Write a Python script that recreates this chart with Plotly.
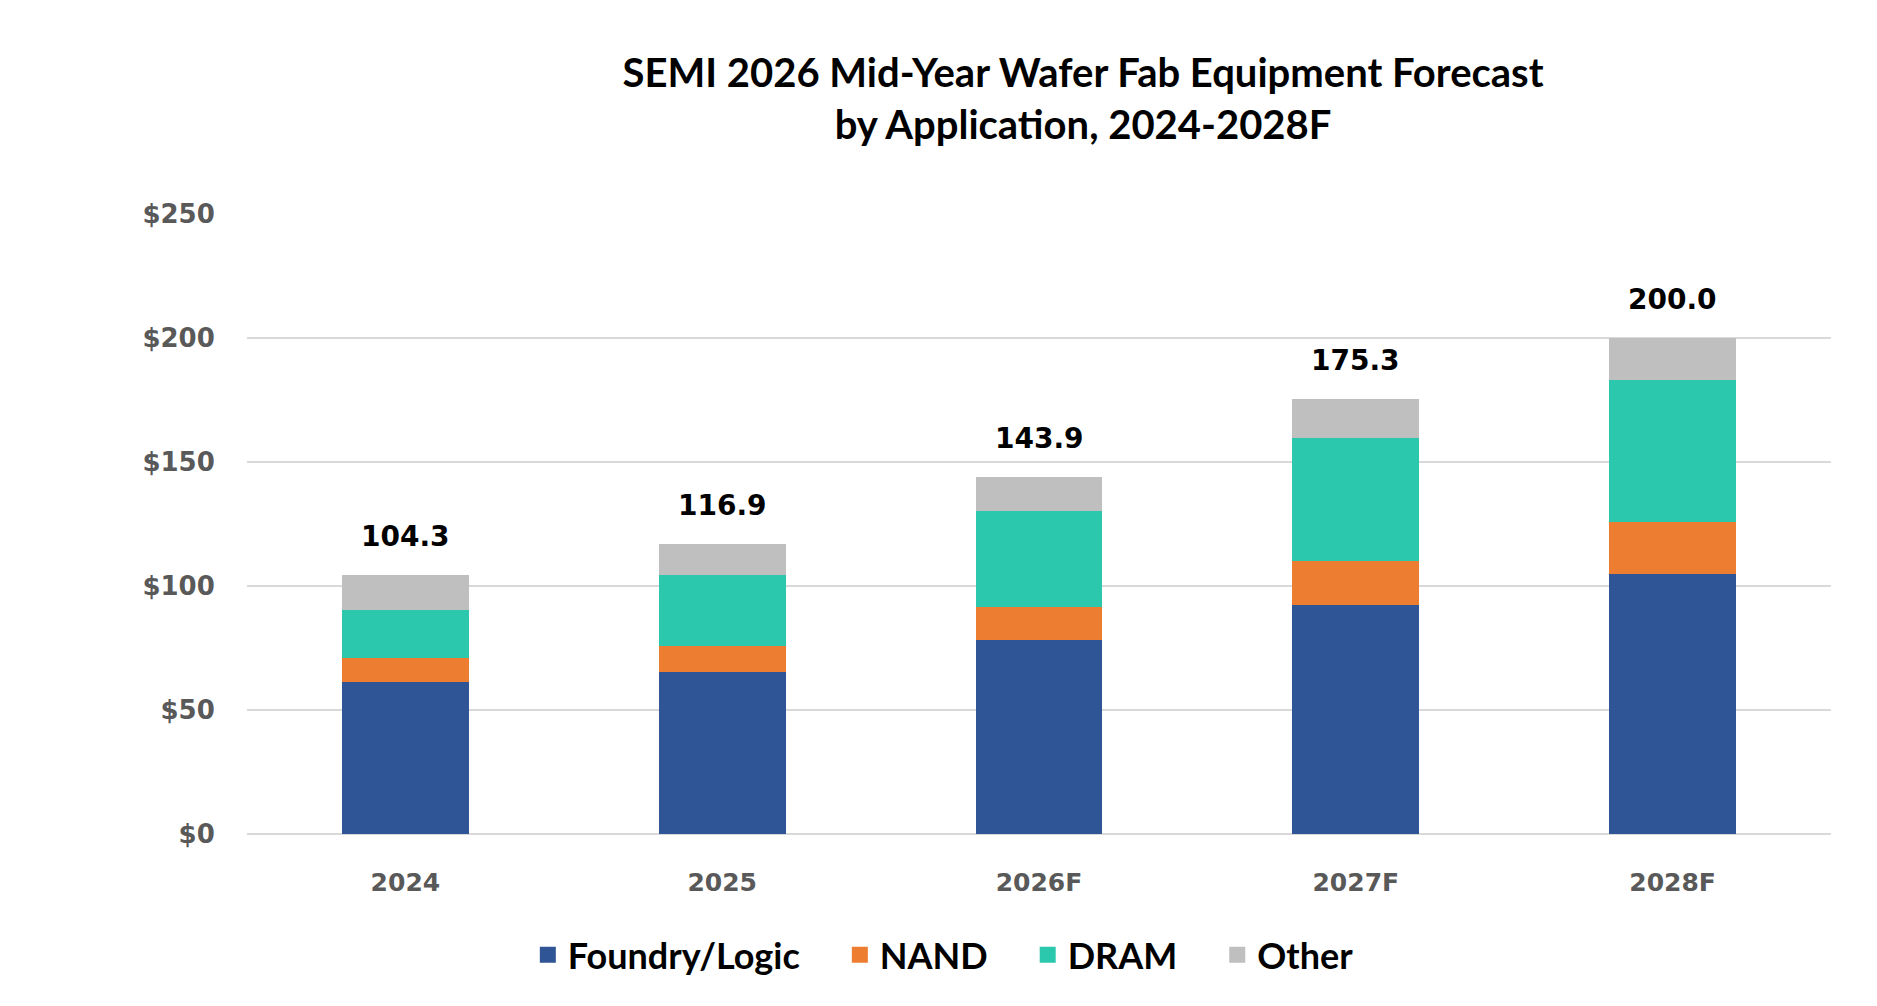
import plotly.graph_objects as go

categories = ["2024", "2025", "2026F", "2027F", "2028F"]
foundry_logic = [61.1, 65.5, 78.2, 92.3, 104.9]
nand = [9.7, 10.4, 13.5, 17.7, 21.1]
dram = [19.5, 28.4, 38.7, 49.5, 56.9]
other = [14.0, 12.6, 13.5, 15.8, 17.1]
totals = [104.3, 116.9, 143.9, 175.3, 200.0]
y_ticks = [0, 50, 100, 150, 200, 250]
y_tick_labels = ["$0", "$50", "$100", "$150", "$200", "$250"]

series = [
    ("Foundry/Logic", foundry_logic, "#2F5597"),
    ("NAND", nand, "#ED7D31"),
    ("DRAM", dram, "#2BC8AD"),
    ("Other", other, "#BFBFBF"),
]

narrow = "Lato, Noto Sans, sans-serif"
wide = "DejaVu Sans, Verdana, sans-serif"
pad = "\u00a0" * 4

fig = go.Figure()
for name, vals, color in series:
    fig.add_trace(go.Bar(x=categories, y=vals, name=name, marker_color=color,
                         marker_line_width=0, showlegend=False))
# legend entries with larger square swatches
for k, (name, vals, color) in enumerate(series):
    label = name + (pad if k < len(series) - 1 else "")
    fig.add_trace(go.Scatter(x=[categories[0]], y=[None], mode="markers", name=label,
                             marker=dict(symbol="square", size=16, color=color),
                             showlegend=True, hoverinfo="skip"))

# total labels: category axis positions are the category indices
for i, t in enumerate(totals):
    fig.add_annotation(x=i, y=t, xref="x", yref="y", text=f"{t:.1f}", showarrow=False,
                       yanchor="bottom", yshift=20,
                       font=dict(family=wide, size=28, color="#000000", weight="bold"))

fig.update_layout(
    barmode="stack",
    bargap=0.6,
    width=1877, height=1006,
    paper_bgcolor="white", plot_bgcolor="white",
    margin=dict(l=247, r=46, t=214, b=172),
    title=dict(text="SEMI 2026 Mid-Year Wafer Fab Equipment Forecast<br>by Application, 2024-2028F",
               x=0.577, xanchor="center", xref="container",
               y=0.914, yanchor="middle", yref="container",
               font=dict(family=narrow, size=40, color="#000000", weight="bold")),
    legend=dict(orientation="h", x=0.4396, xanchor="center", y=-0.195, yanchor="middle",
                font=dict(family=narrow, size=36, color="#000000", weight="bold"),
                traceorder="normal", itemsizing="trace"),
    showlegend=True,
)
fig.update_yaxes(range=[0, 250], tickmode="array", tickvals=y_ticks, ticktext=y_tick_labels,
                 showgrid=True, gridcolor="#D9D9D9", gridwidth=2,
                 zeroline=True, zerolinecolor="#D9D9D9", zerolinewidth=2,
                 showline=False, ticks="outside", ticklen=26, tickcolor="white",
                 tickfont=dict(family=wide, size=26, color="#595959", weight="bold"))
fig.update_xaxes(type="category", categoryorder="array", categoryarray=categories,
                 showgrid=False, showline=False, ticks="outside", ticklen=26, tickcolor="white",
                 tickfont=dict(family=wide, size=25, color="#595959", weight="bold"))

fig.write_html("out.html")
